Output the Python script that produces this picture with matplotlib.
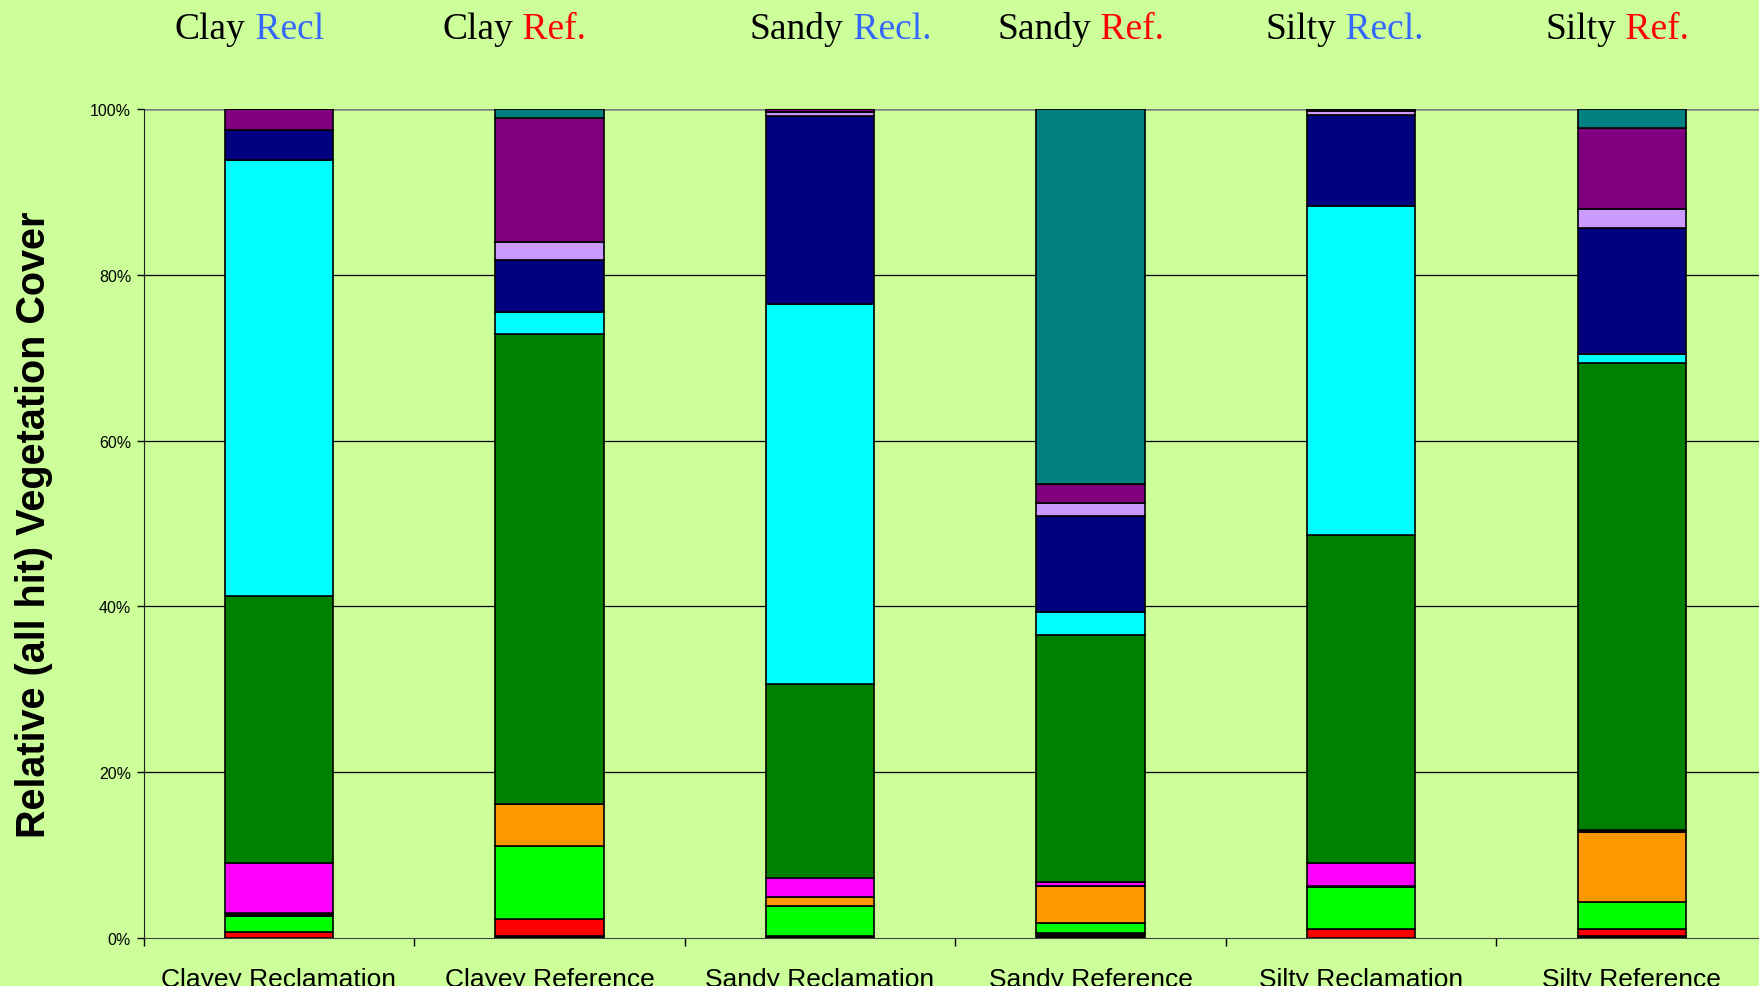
import numpy as np
import matplotlib.pyplot as plt

# relative vegetation cover (%) per site, stacked bottom -> top
sites = ["Clayey Reclamation", "Clayey Reference", "Sandy Reclamation",
         "Sandy Reference", "Silty Reclamation", "Silty Reference"]

black_low = [0.0, 0.3, 0.3, 0.6, 0.0, 0.3]
red       = [0.7, 2.0, 0.0, 0.0, 1.1, 0.8]
lime      = [2.0, 8.8, 3.5, 1.2, 5.0, 3.2]
orange    = [0.0, 5.1, 1.2, 4.5, 0.0, 8.45]
black_mid = [0.3, 0.0, 0.0, 0.0, 0.2, 0.25]
magenta   = [6.1, 0.0, 2.2, 0.5, 2.8, 0.0]
dkgreen   = [32.2, 56.7, 23.4, 29.7, 39.5, 56.4]
cyan      = [52.5, 2.6, 45.9, 2.8, 39.7, 1.1]
navy      = [3.7, 6.3, 22.6, 11.6, 11.0, 15.1]
lavender  = [0.0, 2.2, 0.5, 1.6, 0.4, 2.3]
purple    = [2.5, 14.9, 0.4, 2.3, 0.3, 9.8]
teal      = [0.0, 1.1, 0.0, 45.2, 0.0, 2.3]

series = [black_low, red, lime, orange, black_mid, magenta,
          dkgreen, cyan, navy, lavender, purple, teal]
colors = ["#000000", "#FF0000", "#00FF00", "#FF9900", "#000000", "#FF00FF",
          "#008000", "#00FFFF", "#000080", "#CC99FF", "#800080", "#008080"]

titles = [("Clay", " Recl", "#3366FF"), ("Clay", " Ref.", "#FF0000"),
          ("Sandy", " Recl.", "#3366FF"), ("Sandy", " Ref.", "#FF0000"),
          ("Silty", " Recl.", "#3366FF"), ("Silty", " Ref.", "#FF0000")]
title_left = [175, 442, 750, 997, 1265, 1545]

bg = "#CCFF99"
W, H = 1759, 987
fig = plt.figure(figsize=(W / 100, H / 100), dpi=100, facecolor=bg)
ax = fig.add_axes([143.6 / W, 1 - 939 / H, (1767 - 143.6) / W, (939 - 110) / H])
ax.set_facecolor(bg)

x = np.arange(len(sites)) + 0.5
bottom = np.zeros(len(sites))
for vals, c in zip(series, colors):
    v = np.array(vals)
    ax.bar(x, v, width=0.4, bottom=bottom, color=c, edgecolor="black",
           linewidth=1.2, zorder=3)
    bottom += v

ax.set_xlim(0, 6)
ax.set_ylim(0, 100)
ax.set_yticks([0, 20, 40, 60, 80, 100])
ax.set_yticklabels(["0%", "20%", "40%", "60%", "80%", "100%"],
                   fontsize=11.5, family="Liberation Sans")
for yv in [20, 40, 60, 80]:
    ax.axhline(yv, color="black", linewidth=0.9, zorder=1)
ax.axhline(100, color="#808080", linewidth=1.8, zorder=1)

ax.set_xticks(x)
ax.set_xticklabels(sites, fontsize=19, family="Liberation Sans")
ax.set_xticks(np.arange(7), minor=True)
ax.tick_params(axis="x", which="major", length=0, pad=21)
ax.tick_params(axis="x", which="minor", length=6, width=1, direction="out")
ax.tick_params(axis="y", length=5, width=1, direction="out", pad=4)

for s in ["top", "right"]:
    ax.spines[s].set_visible(False)
ax.spines["left"].set_color("#222222")
ax.spines["bottom"].set_color("#444444")

ax.set_ylabel("Relative (all hit) Vegetation Cover", fontsize=28.5,
              fontweight="bold", family="Liberation Sans", labelpad=27)

for (word, tag, col), xl in zip(titles, title_left):
    t1 = fig.text(xl / W, 1 - 39 / H, word, fontsize=27, family="Liberation Serif",
                  color="black", ha="left", va="baseline")
    ax.annotate(tag, xy=(1, 0), xycoords=t1, fontsize=27, family="Liberation Serif",
                color=col, ha="left", va="bottom", annotation_clip=False)

fig.savefig("out.png", dpi=100, facecolor=bg)
